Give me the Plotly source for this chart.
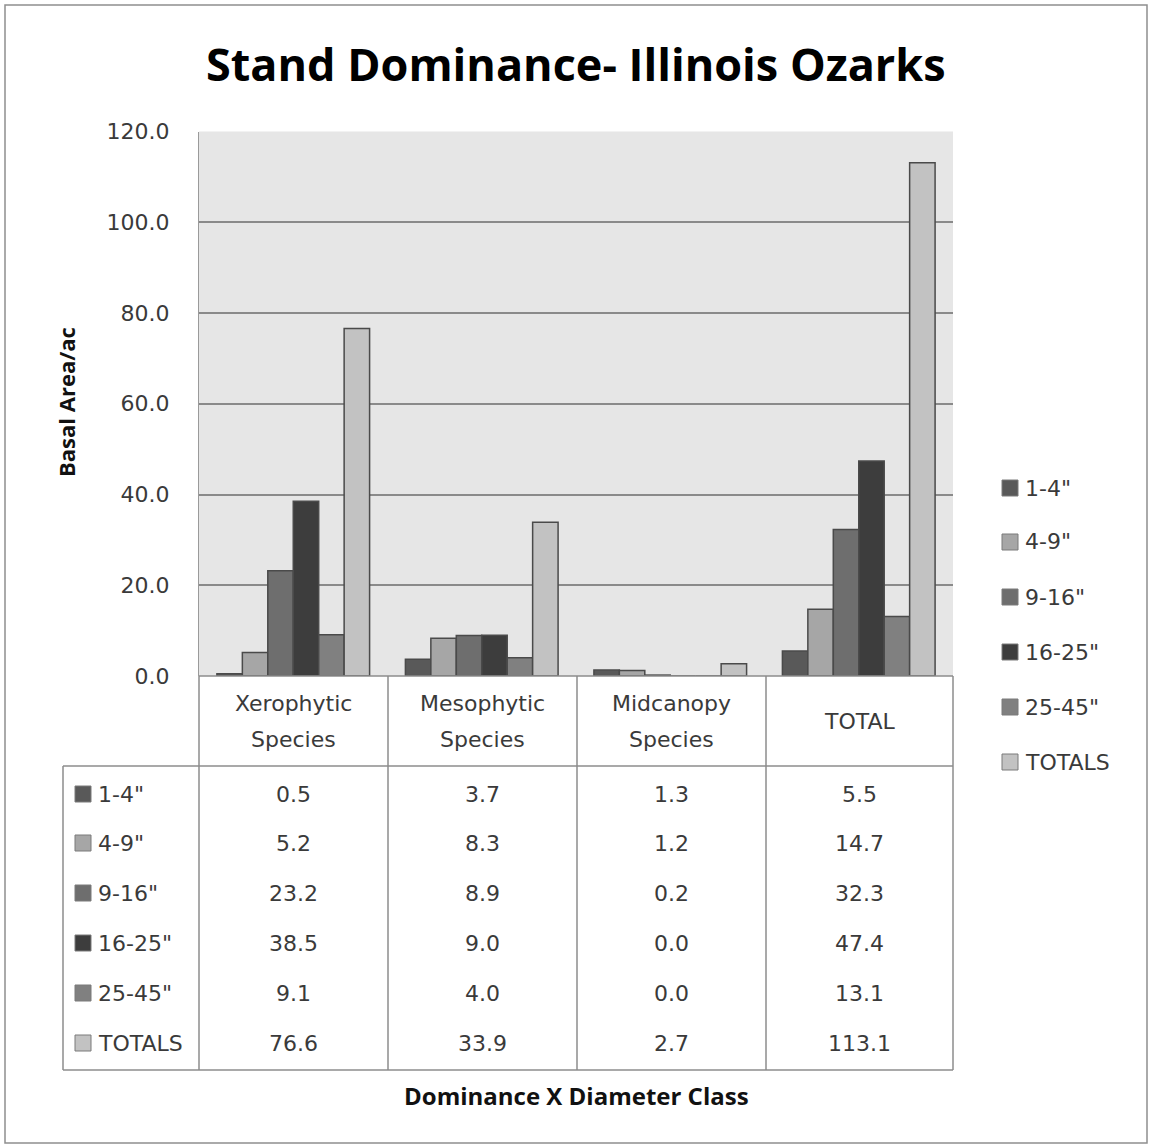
import plotly.graph_objects as go

# Basal area per acre by dominance group and diameter class
categories = ["Xerophytic Species", "Mesophytic Species", "Midcanopy Species", "TOTAL"]
header_lines = [["Xerophytic", "Species"], ["Mesophytic", "Species"], ["Midcanopy", "Species"], ["TOTAL"]]
series_names = ['1-4"', '4-9"', '9-16"', '16-25"', '25-45"', "TOTALS"]
d_1_4 = [0.5, 3.7, 1.3, 5.5]
d_4_9 = [5.2, 8.3, 1.2, 14.7]
d_9_16 = [23.2, 8.9, 0.2, 32.3]
d_16_25 = [38.5, 9.0, 0.0, 47.4]
d_25_45 = [9.1, 4.0, 0.0, 13.1]
d_totals = [76.6, 33.9, 2.7, 113.1]
series_values = [d_1_4, d_4_9, d_9_16, d_16_25, d_25_45, d_totals]
y_ticks = [0, 20, 40, 60, 80, 100, 120]

colors = ["#595959", "#a6a6a6", "#6e6e6e", "#3d3d3d", "#808080", "#c2c2c2"]

W, H = 1150, 1147


def px(x):
    return x / W


def py(y):
    return 1 - y / H


# plot-area and table geometry (pixels)
PL, PR, PT, PB = 199, 953, 131.5, 676
COL_EDGES = [199, 388, 577, 766, 953]
TABLE_LEFT = 63
HEADER_BOTTOM = 766
TABLE_BOTTOM = 1070
ROW_CENTERS = [794, 843, 893, 943, 993, 1043]

LINE = "#8c8c8c"
TXT = "#3a3a3a"
TFONT = "DejaVu Sans"
BFONT = "Open Sans"
TSIZE = 22

fig = go.Figure()
for name, vals, c in zip(series_names, series_values, colors):
    fig.add_trace(go.Bar(
        x=categories, y=vals, name=name,
        marker=dict(color=c, line=dict(color="#4a4a4a", width=1.5)),
        showlegend=False,
    ))

shapes = []
annotations = []


def hline(y, x0, x1):
    shapes.append(dict(type="line", xref="paper", yref="paper",
                       x0=px(x0), x1=px(x1), y0=py(y), y1=py(y),
                       line=dict(color=LINE, width=1.5)))


def vline(x, y0, y1):
    shapes.append(dict(type="line", xref="paper", yref="paper",
                       x0=px(x), x1=px(x), y0=py(y0), y1=py(y1),
                       line=dict(color=LINE, width=1.5)))


def swatch(x, y, c, s=16):
    shapes.append(dict(type="rect", xref="paper", yref="paper",
                       x0=px(x), x1=px(x + s), y0=py(y + s / 2), y1=py(y - s / 2),
                       fillcolor=c, line=dict(color="#7a7a7a", width=1)))


def text(x, y, t, size=TSIZE, color=TXT, family=TFONT, xanchor="center", bold=False):
    if bold:
        t = "<b>" + t + "</b>"
    annotations.append(dict(xref="paper", yref="paper", x=px(x), y=py(y), text=t,
                            showarrow=False, xanchor=xanchor, yanchor="middle",
                            font=dict(family=family, size=size, color=color)))


# outer frame
shapes.append(dict(type="rect", xref="paper", yref="paper",
                   x0=px(5), x1=px(1147), y0=py(1143), y1=py(5),
                   line=dict(color="#8f8f8f", width=1.5), fillcolor="rgba(0,0,0,0)"))

# data table grid
hline(PB, PL, PR)
hline(HEADER_BOTTOM, TABLE_LEFT, PR)
hline(TABLE_BOTTOM, TABLE_LEFT, PR)
for xe in COL_EDGES:
    vline(xe, PB, TABLE_BOTTOM)
vline(TABLE_LEFT, HEADER_BOTTOM, TABLE_BOTTOM)

# column headers
for i, lines in enumerate(header_lines):
    cx = (COL_EDGES[i] + COL_EDGES[i + 1]) / 2
    if len(lines) == 2:
        text(cx, 703, lines[0])
        text(cx, 739, lines[1])
    else:
        text(cx, 721, lines[0])

# row labels and values
for r, (name, vals, c) in enumerate(zip(series_names, series_values, colors)):
    yc = ROW_CENTERS[r]
    swatch(75, yc, c)
    text(96, yc, name, xanchor="left")
    for i, v in enumerate(vals):
        cx = (COL_EDGES[i] + COL_EDGES[i + 1]) / 2
        text(cx, yc, f"{v:.1f}")

# legend on the right
legend_y = [488, 542, 597, 652, 707, 762]
for name, c, yc in zip(series_names, colors, legend_y):
    swatch(1002, yc, c)
    text(1023, yc, name, xanchor="left")

# titles
text(576, 63, "Stand Dominance- Illinois Ozarks", size=45, color="#000000", family=BFONT, bold=True)
text(576, 1095, "Dominance X Diameter Class", size=24, color="#111111", family=BFONT, bold=True)
annotations.append(dict(xref="paper", yref="paper", x=px(66), y=py(402),
                        text="<b>Basal Area/ac</b>", showarrow=False, textangle=-90,
                        xanchor="center", yanchor="middle",
                        font=dict(family=BFONT, size=22, color="#111111")))

fig.update_layout(
    width=W, height=H, autosize=False,
    margin=dict(l=0, r=0, t=0, b=0, pad=0),
    paper_bgcolor="white",
    plot_bgcolor="#e6e6e6",
    barmode="group",
    bargap=0.19,
    bargroupgap=0,
    shapes=shapes,
    annotations=annotations,
    xaxis=dict(domain=[px(PL), px(PR)], showticklabels=False, ticks="",
               showgrid=False, zeroline=False, showline=False, fixedrange=True,
               automargin=False),
    yaxis=dict(domain=[py(PB), py(PT)], range=[0, 120], tickvals=y_ticks,
               tickformat=".1f", showgrid=True, gridcolor="#8a8a8a", gridwidth=1.5,
               zeroline=False, showline=True, linecolor="#9a9a9a", linewidth=1,
               ticks="", ticklabelstandoff=24, automargin=False,
               tickfont=dict(family=TFONT, size=TSIZE, color=TXT)),
)

fig.write_html("out.html")
